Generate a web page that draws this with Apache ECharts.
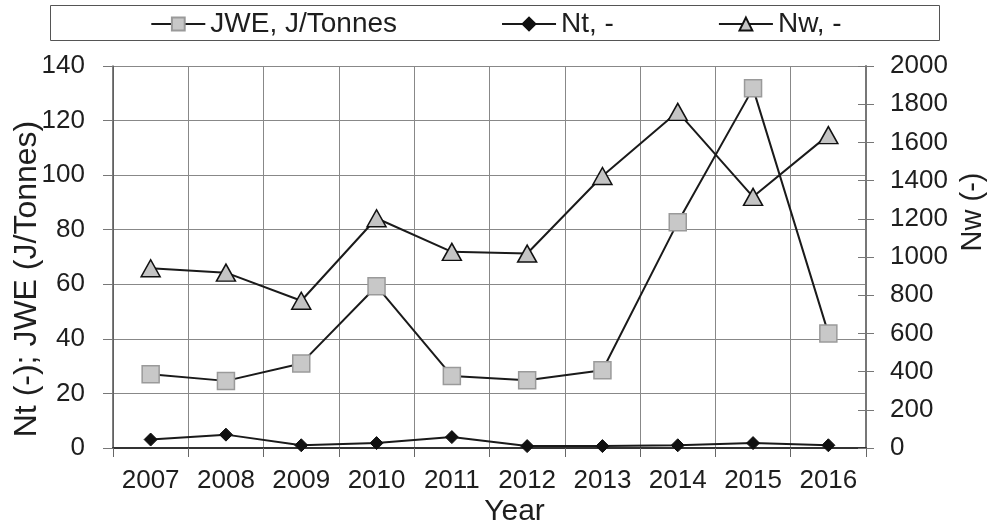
<!DOCTYPE html>
<html>
<head>
<meta charset="utf-8">
<script src="https://cdn.jsdelivr.net/npm/echarts@6/dist/echarts.min.js"></script>
<style>
html,body{margin:0;padding:0;background:#fff;}
#chart{width:992px;height:526px;}
</style>
</head>
<body>
<div id="chart"></div>
<script>
const years = ['2007','2008','2009','2010','2011','2012','2013','2014','2015','2016'];
const jwe = [27.0, 24.6, 31.0, 59.3, 26.4, 24.8, 28.5, 82.7, 131.8, 42.0];
const nt = [3.1, 4.9, 1.0, 1.8, 4.0, 0.7, 0.7, 1.0, 1.8, 1.0];
const nw = [941, 918, 771, 1203, 1027, 1018, 1424, 1760, 1315, 1638];

const FONT = 'Liberation Sans, Arial, sans-serif';
const TXT = '#1e1e1e';
const LINE = '#1a1a1a';

const chart = echarts.init(document.getElementById('chart'), null, {renderer: 'canvas'});
chart.setOption({
  animation: false,
  backgroundColor: '#fff',
  textStyle: {fontFamily: FONT},
  graphic: [{
    type: 'rect',
    left: 48, top: 3,
    shape: {width: 889, height: 35},
    style: {fill: 'none', stroke: '#555', lineWidth: 1},
    z: 0
  }],
  legend: {
    top: 5,
    left: 'center',
    itemWidth: 54,
    itemHeight: 16,
    itemGap: 104,
    textStyle: {fontSize: 28, color: TXT, fontFamily: FONT},
    data: ['JWE, J/Tonnes', 'Nt, -', 'Nw, -']
  },
  grid: {left: 113, right: 126, top: 66, bottom: 78, containLabel: false, outerBoundsMode: 'none'},
  xAxis: {
    type: 'category',
    data: years,
    boundaryGap: true,
    name: 'Year',
    nameLocation: 'middle',
    nameGap: 49,
    nameMoveOverlap: false,
    nameTextStyle: {fontSize: 30, color: TXT, fontFamily: FONT, padding: [0, 0, 0, 50]},
    axisLine: {show: true, lineStyle: {color: '#333', width: 2}},
    axisTick: {show: true, interval: 0, length: 9, lineStyle: {color: '#666', width: 1}},
    axisLabel: {fontSize: 26, color: TXT, margin: 20, interval: 0, fontFamily: FONT},
    splitLine: {show: true, interval: 0, lineStyle: {color: '#888', width: 1}}
  },
  yAxis: [{
    type: 'value',
    position: 'left',
    min: 0, max: 140, interval: 20,
    name: 'Nt (-); JWE (J/Tonnes)',
    nameLocation: 'middle',
    nameRotate: 90,
    nameGap: 70,
    nameMoveOverlap: false,
    nameTextStyle: {fontSize: 32, color: TXT, fontFamily: FONT, padding: [0, 44, 0, 0]},
    axisLine: {show: true, lineStyle: {color: '#555', width: 1.5}},
    axisTick: {show: true, length: 10, lineStyle: {color: '#777', width: 1}},
    axisLabel: {fontSize: 26, color: TXT, margin: 28, fontFamily: FONT},
    splitLine: {show: true, lineStyle: {color: '#888', width: 1}}
  }, {
    type: 'value',
    position: 'right',
    min: 0, max: 2000, interval: 200,
    name: 'Nw (-)',
    nameLocation: 'middle',
    nameRotate: 90,
    nameGap: 90,
    nameTextStyle: {fontSize: 29, color: TXT, fontFamily: FONT, padding: [0, 0, 0, 90]},
    axisLine: {show: true, lineStyle: {color: '#777', width: 2}},
    axisTick: {show: true, length: 8, lineStyle: {color: '#777', width: 1}},
    axisLabel: {fontSize: 26, color: TXT, margin: 24, fontFamily: FONT, formatter: function (v) { return String(v); }},
    splitLine: {show: false}
  }, {
    type: 'value',
    position: 'right',
    min: 0, max: 2000, interval: 200,
    axisLine: {show: false},
    axisTick: {show: true, inside: true, length: 8, lineStyle: {color: '#777', width: 1}},
    axisLabel: {show: false},
    splitLine: {show: false}
  }],
  series: [{
    name: 'JWE, J/Tonnes',
    type: 'line',
    yAxisIndex: 0,
    data: jwe,
    symbol: 'rect',
    symbolSize: 17,
    lineStyle: {color: LINE, width: 2},
    itemStyle: {color: '#c8c8c8', borderColor: '#9a9a9a', borderWidth: 1.5},
    z: 3
  }, {
    name: 'Nt, -',
    type: 'line',
    yAxisIndex: 0,
    data: nt,
    symbol: 'diamond',
    symbolSize: 13,
    lineStyle: {color: LINE, width: 2},
    itemStyle: {color: '#111', borderColor: '#111', borderWidth: 1},
    z: 4
  }, {
    name: 'Nw, -',
    type: 'line',
    yAxisIndex: 1,
    data: nw,
    symbol: 'triangle',
    symbolSize: [19, 17],
    lineStyle: {color: LINE, width: 2},
    itemStyle: {color: '#c4c4c4', borderColor: '#111', borderWidth: 1.5},
    z: 5
  }]
});
</script>
</body>
</html>
